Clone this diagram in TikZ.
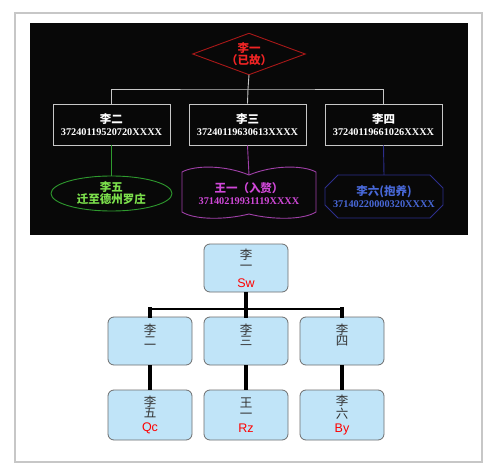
\documentclass[tikz,border=0pt]{standalone}
\usepackage{fontspec}
\setmainfont{Liberation Serif}
\setsansfont{Liberation Sans}
\newfontfamily\cjk{Noto Sans CJK SC}
\usetikzlibrary{positioning, shapes.geometric}

\definecolor{panel}{HTML}{080808}
\definecolor{kinred}{HTML}{A81818}
\definecolor{kinredtxt}{HTML}{F02424}
\definecolor{kingreen}{HTML}{2E9A2E}
\definecolor{kingreentxt}{HTML}{7CE04C}
\definecolor{kinpurple}{HTML}{A040A8}
\definecolor{kinpurpletxt}{HTML}{D048D8}
\definecolor{kinblue}{HTML}{2C2E8C}
\definecolor{kinbluetxt}{HTML}{4868D8}
\definecolor{famfill}{HTML}{C0E4F8}
\definecolor{famedge}{HTML}{6E6E6E}

\newcommand\hanzi{\cjk\bfseries\fontsize{11.5}{15.5}\selectfont}
\newcommand\idfont{\rmfamily\bfseries\fontsize{10.3}{15.5}\selectfont}
\newcommand\famtag[1]{\textcolor{red}{\sffamily\fontsize{12.5}{12}\selectfont #1}}

\begin{document}
\begin{tikzpicture}[x=1pt, y=-1pt,
  idbox/.style={draw=black!22, line width=0.9pt, minimum width=117pt,
                minimum height=41pt, inner sep=0pt, align=center, text=white},
  kinline/.style={line width=0.9pt},
  famnode/.style={draw=famedge, fill=famfill, rounded corners=6pt, line width=0.8pt,
                  minimum width=84pt, minimum height=48pt, inner sep=0pt, align=center,
                  text=black!80, font=\cjk\fontsize{12.5}{11}\selectfont},
  vbar/.style={line width=4.5pt, line cap=rect},
  hbar/.style={line width=2.5pt}]
  \useasboundingbox (0,0) rectangle (491,471);
  % page and black panel
  \fill[white] (0,0) rectangle (491,471);
  \draw[black!22, line width=1.5pt] (15,13) rectangle (482,462);
  \fill[panel] (30,23) rectangle (468,235);

  % upper chart
  \node[minimum width=112pt, minimum height=41pt, inner sep=0pt, align=center,
        text=kinredtxt] (liyi) at (249,54) {\hanzi 李一\\\hanzi （已故）};
  \draw[kinred, kinline] (liyi.north) -- (liyi.east) -- (liyi.south) -- (liyi.west) -- cycle;
  \node[idbox] (lier) at (111.5,124.5) {\hanzi 李二\\\idfont 37240119520720XXXX};
  \node[idbox] (lisan) at (247.5,124.5) {\hanzi 李三\\\idfont 37240119630613XXXX};
  \node[idbox] (lisi) at (383.5,124.5) {\hanzi 李四\\\idfont 37240119661026XXXX};
  \coordinate (fork) at (248,89);
  \draw[black!22, kinline] (liyi.south) -- (fork);
  \draw[black!22, kinline] (lier.north) |- (fork) -| (lisi.north);
  \draw[black!22, kinline] (lisan.north) -- (fork);

  \node[ellipse, draw=kingreen, kinline, minimum width=121pt, minimum height=35pt,
        inner sep=0pt, align=center, text=kingreentxt] (liwu) at (111.5,193.5)
        {\hanzi 李五\\\hanzi 迁至德州罗庄};
  \draw[kinpurple, kinline] (182,172) .. controls (195,165) and (225,165) .. (249,175)
        .. controls (273,165) and (303,165) .. (316,172) -- (316,212)
        .. controls (303,220) and (273,220) .. (249,214)
        .. controls (225,220) and (195,220) .. (182,212) -- cycle;
  \coordinate (wangtop) at (249,175);
  \node[align=center, inner sep=0pt, text=kinpurpletxt] (wangyi) at (249,194)
        {\hanzi 王一（入赘）\\\idfont 37140219931119XXXX};
  \draw[kinblue, kinline] (338,175) -- (430,175) -- (443,188) -- (443,205) -- (430,218)
        -- (338,218) -- (325,205) -- (325,188) -- cycle;
  \node[minimum width=118pt, minimum height=43pt, inner sep=0pt,
        align=center, text=kinbluetxt] (liliu) at (384,196.5)
        {\hanzi 李六(抱养)\\\idfont 37140220000320XXXX};
  \draw[kingreen, kinline] (lier.south) -- (liwu.north);
  \draw[kinpurple, kinline] (lisan.south) -- (wangtop);
  \draw[kinblue, kinline] (lisi.south) -- (liliu.north);

  % lower chart
  \node[famnode] (famyi) at (246,268) {李\\一\\[6pt]\famtag{Sw}};
  \node[famnode] (famer) at (150,341) {李\\二\\[1pt]~};
  \node[famnode] (famsan) at (246,341) {李\\三\\[1pt]~};
  \node[famnode] (famsi) at (342,341) {李\\四\\[1pt]~};
  \node[famnode, minimum height=50pt] (famwu) at (150,415) {李\\五\\[3pt]\famtag{Qc}};
  \node[famnode, minimum height=50pt] (famwang) at (246,415) {王\\一\\[3pt]\famtag{Rz}};
  \node[famnode, minimum height=50pt] (famliu) at (342,415) {李\\六\\[3pt]\famtag{By}};
  \coordinate (famfork) at (246,309);
  \draw[vbar, line cap=butt] (famyi.south) -- (famfork);
  \draw[hbar] (famer.north |- famfork) -- (famsi.north |- famfork);
  \foreach \n in {famer, famsan, famsi}
    \draw[line width=3.5pt, line cap=rect] (\n.north |- famfork) -- (\n.north);
  \draw[vbar, line cap=butt] (famer.south) -- (famwu.north);
  \draw[vbar, line cap=butt] (famsan.south) -- (famwang.north);
  \draw[vbar, line cap=butt] (famsi.south) -- (famliu.north);
\end{tikzpicture}
\end{document}
